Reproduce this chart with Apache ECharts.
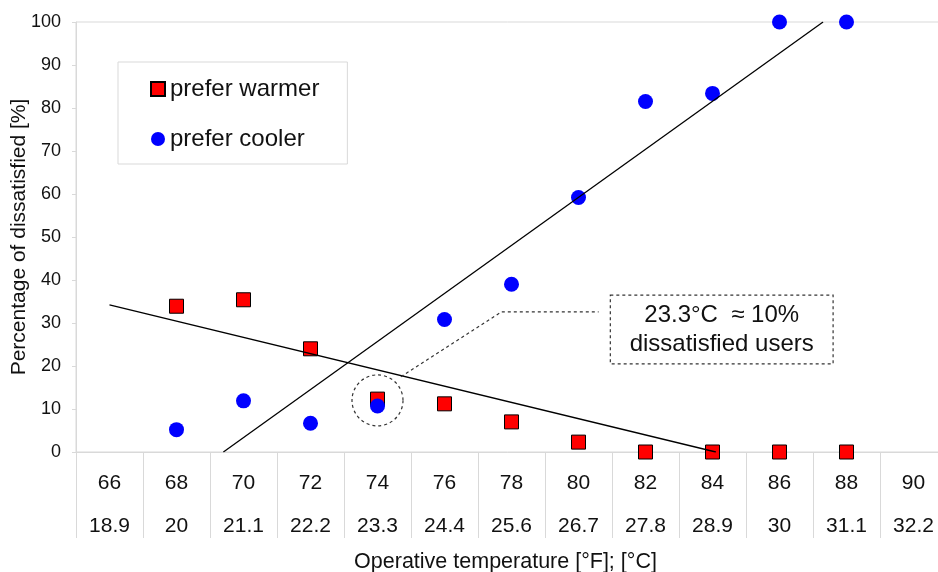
<!DOCTYPE html>
<html>

<head>
    <meta charset="utf-8">
    <title>Operative temperature vs dissatisfied</title>
    <script src="https://cdn.jsdelivr.net/npm/echarts@6/dist/echarts.min.js"></script>
    <style>
        html, body { margin: 0; padding: 0; background: #fff; }
        #chart { width: 938px; height: 572px; }
    </style>
</head>

<body>
    <div id="chart"></div>
    <script>
        // table labels under the plot
        var tempF = ['66', '68', '70', '72', '74', '76', '78', '80', '82', '84', '86', '88', '90'];
        var tempC = ['18.9', '20', '21.1', '22.2', '23.3', '24.4', '25.6', '26.7', '27.8', '28.9', '30', '31.1', '32.2'];

        // measured points (x in °F)
        var pointF = [68, 70, 72, 74, 76, 78, 80, 82, 84, 86, 88];
        var warmer = [33.9, 35.4, 24.0, 12.3, 11.2, 7.0, 2.3, 0, 0, 0, 0];
        var cooler = [5.2, 11.9, 6.7, 10.7, 30.8, 39.0, 59.2, 81.5, 83.4, 100, 100];

        // trend lines
        var warmerTrend = [[66, 34.2], [84.1, 0]];
        var coolerTrend = [[69.4, 0], [87.3, 100]];

        // annotation
        var markedPoint = [[74, 12]];
        var leader = [[74.7, 17.5], [77.7, 32.6], [80.6, 32.6]];
        var noteBox = [[80.95, 36.5], [87.6, 20.5]];
        var noteText = '23.3°C  ≈ 10%\ndissatisfied users';

        function zip(xs, ys) {
            return xs.map(function (x, i) { return [x, ys[i]]; });
        }

        var font = '"Liberation Sans", Arial, sans-serif';
        var gray = '#d9d9d9';
        var ink = '#111';

        var chart = echarts.init(document.getElementById('chart'));

        var option = {
            animation: false,
            textStyle: { fontFamily: font, color: ink },
            grid: {
                left: 76, top: 22, right: -9, bottom: 120,
                show: true, borderColor: gray, borderWidth: 1,
                outerBoundsMode: 'none'
            },
            legend: {
                data: ['prefer warmer', 'prefer cooler'],
                orient: 'vertical',
                left: 118, top: 62,
                padding: [14, 28, 12, 32],
                itemGap: 24,
                itemWidth: 14, itemHeight: 14,
                backgroundColor: '#fff',
                borderColor: gray, borderWidth: 1,
                textStyle: { fontFamily: font, fontSize: 24, lineHeight: 26, color: ink }
            },
            xAxis: [
                {
                    type: 'value',
                    min: 65, max: 91,
                    axisLine: { show: true, lineStyle: { color: gray } },
                    axisTick: { show: false },
                    axisLabel: { show: false },
                    splitLine: { show: false }
                },
                {
                    type: 'category',
                    data: tempF,
                    position: 'bottom',
                    boundaryGap: true,
                    axisLine: { show: false },
                    axisTick: { show: true, interval: 0, length: 86, lineStyle: { color: gray } },
                    axisLabel: {
                        interval: 0,
                        margin: 10,
                        formatter: function (v, i) {
                            return '{f|' + v + '}\n{c|' + tempC[i] + '}';
                        },
                        rich: {
                            f: { fontFamily: font, fontSize: 21, lineHeight: 43, color: ink },
                            c: { fontFamily: font, fontSize: 21, lineHeight: 43, color: ink }
                        }
                    },
                    name: 'Operative temperature [°F]; [°C]',
                    nameLocation: 'middle',
                    nameGap: 99,
                    nameTextStyle: { fontFamily: font, fontSize: 21.5, color: ink, padding: [0, 12, 0, 0] }
                }
            ],
            yAxis: {
                type: 'value',
                min: 0, max: 100, interval: 10,
                axisLine: { show: true, lineStyle: { color: gray } },
                axisTick: { show: true, length: 4, lineStyle: { color: gray } },
                axisLabel: { fontFamily: font, fontSize: 18, color: ink, margin: 15 },
                splitLine: { show: false },
                name: 'Percentage of dissatisfied [%]',
                nameLocation: 'middle',
                nameGap: 46,
                nameMoveOverlap: false,
                nameTextStyle: { fontFamily: font, fontSize: 21, color: ink }
            },
            series: [
                {
                    name: 'prefer warmer',
                    type: 'scatter',
                    symbol: 'rect',
                    symbolSize: 14,
                    itemStyle: { color: '#ff0000', borderColor: '#000', borderWidth: 1, opacity: 1 },
                    data: zip(pointF, warmer),
                    z: 3
                },
                {
                    name: 'prefer cooler',
                    type: 'scatter',
                    symbol: 'circle',
                    symbolSize: 15,
                    itemStyle: { color: '#0000ff', opacity: 1 },
                    data: zip(pointF, cooler),
                    z: 4
                },
                {
                    name: 'trend warmer',
                    type: 'line',
                    symbol: 'none',
                    lineStyle: { color: '#000', width: 1.3 },
                    data: warmerTrend,
                    z: 5
                },
                {
                    name: 'trend cooler',
                    type: 'line',
                    symbol: 'none',
                    lineStyle: { color: '#000', width: 1.3 },
                    data: coolerTrend,
                    z: 5
                },
                {
                    name: 'marked',
                    type: 'scatter',
                    symbol: 'circle',
                    symbolSize: 51,
                    silent: true,
                    itemStyle: { color: 'rgba(0,0,0,0)', borderColor: '#333', borderWidth: 1.2, borderType: [3, 3], opacity: 1 },
                    data: markedPoint,
                    z: 6
                },
                {
                    name: 'leader',
                    type: 'line',
                    symbol: 'none',
                    silent: true,
                    lineStyle: { color: '#333', width: 1.2, type: [3, 3] },
                    data: leader,
                    markArea: {
                        silent: true,
                        itemStyle: { color: '#fff', borderColor: '#333', borderWidth: 1.2, borderType: [3, 3], opacity: 1 },
                        label: {
                            show: true,
                            position: 'inside',
                            fontFamily: font,
                            fontSize: 24,
                            lineHeight: 29,
                            color: ink,
                            align: 'center',
                            formatter: noteText
                        },
                        data: [[{ coord: noteBox[0] }, { coord: noteBox[1] }]]
                    },
                    z: 6
                }
            ]
        };
        chart.setOption(option);
    </script>
</body>

</html>
